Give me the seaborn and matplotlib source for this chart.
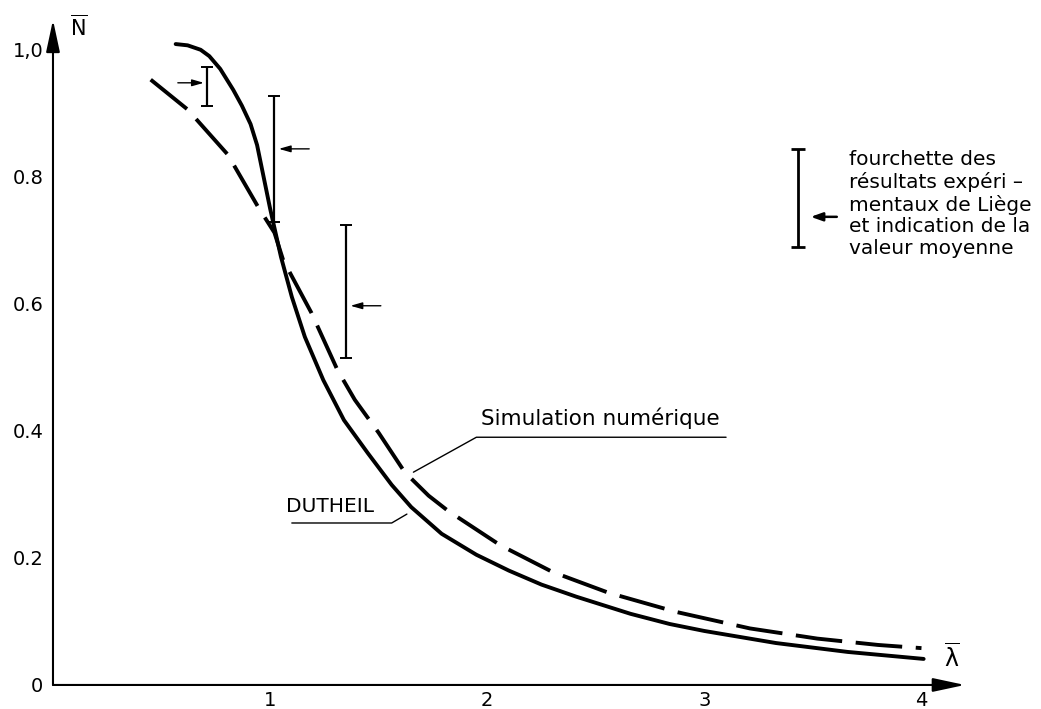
import matplotlib
matplotlib.use("Agg")
import matplotlib.pyplot as plt
import pandas as pd
import seaborn as sns

# curve (lambda bar, N bar)
dutheil_x = [0.565, 0.62, 0.68, 0.72, 0.77, 0.83, 0.87, 0.91, 0.94, 0.97, 1.0, 1.05, 1.10, 1.16,
             1.245, 1.34, 1.45, 1.56, 1.65, 1.79, 1.95, 2.10, 2.25, 2.41, 2.66, 2.84, 3.0,
             3.33, 3.66, 4.01]
dutheil_y = [1.009, 1.007, 1.0, 0.99, 0.97, 0.937, 0.912, 0.883, 0.85, 0.80, 0.75, 0.674, 0.611, 0.548,
             0.48, 0.417, 0.365, 0.315, 0.28, 0.238, 0.205, 0.18, 0.158, 0.139, 0.112, 0.096, 0.085,
             0.066, 0.052, 0.041]

simul_x = [0.45, 0.62, 0.805, 0.944, 1.02, 1.06, 1.19, 1.31, 1.39, 1.50, 1.62, 1.73, 1.82,
           2.06, 2.30, 2.56, 2.87, 3.21, 3.52, 3.80, 4.0]
simul_y = [0.953, 0.906, 0.835, 0.753, 0.712, 0.669, 0.586, 0.496, 0.449, 0.397, 0.335, 0.298, 0.274,
           0.220, 0.178, 0.145, 0.115, 0.089, 0.073, 0.063, 0.058]

# experimental ranges (Liege) and mean value
bar_x = [0.71, 1.02, 1.35]
bar_lo = [0.912, 0.729, 0.515]
bar_hi = [0.973, 0.928, 0.724]
bar_mean = [0.948, 0.844, 0.597]
bar_side = ["left", "right", "right"]

ytick_vals = [0, 0.2, 0.4, 0.6, 0.8, 1.0]
ytick_labels = ["0", "0.2", "0.4", "0.6", "0.8", "1,0"]
xtick_vals = [1, 2, 3, 4]
xtick_labels = ["1", "2", "3", "4"]

legend_text = "fourchette des\nrésultats expéri –\nmentaux de Liège\net indication de la\nvaleur moyenne"

df = pd.DataFrame({
    "lam": dutheil_x + simul_x,
    "N": dutheil_y + simul_y,
    "curve": ["DUTHEIL"] * len(dutheil_x) + ["Simulation"] * len(simul_x),
})

sns.set_theme(style="white")
plt.rcParams["font.family"] = ["DejaVu Sans"]
plt.rcParams["text.color"] = "black"
plt.rcParams["xtick.color"] = "black"
plt.rcParams["ytick.color"] = "black"

fig = plt.figure(figsize=(10.41, 7.09), dpi=100)
ax = fig.add_axes([0.0509, 0.0339, 0.876, 0.938])

sns.lineplot(data=df, x="lam", y="N", style="curve", sort=False, estimator=None,
             dashes={"DUTHEIL": "", "Simulation": (12, 3.5)}, color="black",
             linewidth=2.8, legend=False, ax=ax)

# error bars with arrow on the mean
bar_mid = [(a + b) / 2 for a, b in zip(bar_lo, bar_hi)]
ax.errorbar(bar_x, bar_mid,
            yerr=[[m - l for m, l in zip(bar_mid, bar_lo)],
                  [h - m for m, h in zip(bar_mid, bar_hi)]],
            fmt="none", ecolor="black", elinewidth=1.6, capsize=4, capthick=1.4)
for bx, bm, side in zip(bar_x, bar_mean, bar_side):
    if side == "left":
        start, end = bx - 0.135, bx - 0.015
    else:
        start, end = bx + 0.16, bx + 0.02
    ax.annotate("", xy=(end, bm), xytext=(start, bm),
                arrowprops=dict(arrowstyle="-|>,head_length=0.7,head_width=0.2",
                                color="black", lw=1.0, mutation_scale=10,
                                shrinkA=0, shrinkB=0))

# legend symbol
ax.errorbar([3.43], [0.767], yerr=[[0.077], [0.077]], fmt="none", ecolor="black",
            elinewidth=2.0, capsize=5, capthick=2.0, clip_on=False)
ax.annotate("", xy=(3.49, 0.737), xytext=(3.61, 0.737),
            arrowprops=dict(arrowstyle="-|>,head_length=0.7,head_width=0.25",
                            color="black", lw=1.8, mutation_scale=10, shrinkA=0, shrinkB=0),
            annotation_clip=False)
ax.text(3.667, 0.842, legend_text, fontsize=14.5, va="top", ha="left",
        linespacing=1.17, clip_on=False)

# curve labels
ax.text(1.97, 0.409, "Simulation numérique", fontsize=15.5, ha="left", va="baseline")
ax.plot([1.66, 1.95, 3.10], [0.335, 0.39, 0.39], color="black", lw=1.0)
ax.text(1.48, 0.272, "DUTHEIL", fontsize=14.5, ha="right", va="baseline")
ax.plot([1.10, 1.56, 1.63], [0.255, 0.255, 0.269], color="black", lw=1.0)

# axes with arrow heads
ax.set_xlim(0, 4.2)
ax.set_ylim(0, 1.047)
for s in ax.spines.values():
    s.set_visible(False)
ax.annotate("", xy=(4.2, 0), xytext=(0, 0),
            arrowprops=dict(arrowstyle="-|>,head_length=1.4,head_width=0.3", color="black",
                            lw=1.5, mutation_scale=14, shrinkA=0, shrinkB=0),
            annotation_clip=False)
ax.annotate("", xy=(0, 1.047), xytext=(0, 0),
            arrowprops=dict(arrowstyle="-|>,head_length=1.4,head_width=0.3", color="black",
                            lw=1.5, mutation_scale=14, shrinkA=0, shrinkB=0),
            annotation_clip=False)
ax.text(0.08, 1.035, r"$\overline{\mathsf{N}}$", fontsize=15, ha="left", va="center")
ax.text(4.14, 0.042, r"$\overline{\mathrm{\lambda}}$", fontsize=17, ha="center", va="center")

ax.set_xticks(xtick_vals)
ax.set_xticklabels(xtick_labels)
ax.set_yticks(ytick_vals)
ax.set_yticklabels(ytick_labels)
ax.tick_params(direction="in", length=5, width=1.0, labelsize=14, colors="black")
ax.tick_params(axis="x", pad=4)
ax.tick_params(axis="y", pad=7)
ax.set_xlabel("")
ax.set_ylabel("")

fig.savefig("out.png", dpi=100, facecolor="white")
